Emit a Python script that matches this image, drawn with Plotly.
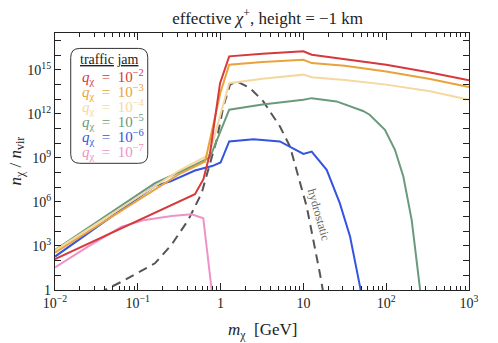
import plotly.graph_objects as go

# ---- data ----
m_red = [0.01, 0.49, 0.62, 0.745, 0.985, 1.27, 3.2, 10, 12.6, 31.6, 100, 339, 1000]
n_red = [1.26e2, 3.4e6, 3.6e7, 2.1e9, 1.26e14, 8.5e15, 1.26e16, 1.86e16, 1.1e16, 5.6e15, 2.3e15, 6.8e14, 2.0e14]

m_orange = [0.01, 0.1, 0.316, 0.65, 0.79, 1.0, 1.27, 3.2, 10, 12.6, 31.6, 100, 339, 1000]
n_orange = [3.5e2, 1.26e6, 7.9e7, 5.8e8, 8.0e10, 3.2e13, 2.3e15, 3.5e15, 5.0e15, 2.95e15, 1.95e15, 7.9e14, 2.4e14, 6.9e13]

m_yellow = [0.01, 0.1, 0.316, 0.73, 1.27, 3.2, 10, 12.6, 31.6, 100, 339, 1000]
n_yellow = [5.0e2, 2.0e6, 1.4e8, 1.66e9, 1.26e14, 2.5e14, 4.8e14, 3.2e14, 2.1e14, 1.0e14, 3.5e13, 9.3e12]

m_green = [0.01, 0.04, 0.161, 0.49, 0.745, 1.27, 3.2, 10, 12.6, 25.1, 39.8, 52.5, 63.1, 96.6, 127.6, 161, 203, 256, 270]
n_green = [5.4e2, 1.0e5, 1.9e7, 3.4e8, 1.1e9, 1.95e12, 4.5e12, 9.3e12, 1.2e13, 7.2e12, 2.8e12, 1.6e12, 8.9e11, 8.3e10, 3.6e9, 5.4e7, 6.0e4, 1.0, 0.1]

m_blue = [0.01, 0.04, 0.161, 0.245, 0.49, 0.79, 1.0, 1.27, 2.5, 5.2, 7.55, 10, 12.6, 19.1, 27.5, 36.6, 48.3, 51]
n_blue = [1.9e2, 5.0e4, 1.26e7, 2.45e7, 1.4e8, 2.8e8, 4.9e8, 1.35e10, 1.9e10, 1.35e10, 4.7e9, 1.9e9, 2.75e9, 1.55e8, 8.3e5, 4.4e3, 1.7, 0.3]

m_pink = [0.01, 0.025, 0.0638, 0.122, 0.257, 0.448, 0.618, 0.782, 0.8]
n_pink = [35, 9.1e2, 2.1e4, 6.0e4, 1.12e5, 1.45e5, 7.8e4, 1.0, 0.3]

m_hydro = [0.035, 0.04, 0.0638, 0.161, 0.257, 0.407, 0.59, 0.898, 1.08, 1.3, 1.56, 2.26, 3.28, 5.21, 6.89, 10.96, 15.8, 17.3, 17.8]
n_hydro = [0.5, 1.0, 3.7, 66, 1.26e3, 6.0e4, 4.0e6, 1.74e10, 3.2e12, 1.0e14, 1.66e14, 5.9e13, 7.2e12, 1.4e11, 6.0e9, 4.9e5, 1.4e1, 1.0, 0.3]

series = [
    (m_red, n_red, "#d6393b", "10<sup>−2</sup>"),
    (m_orange, n_orange, "#e8a33c", "10<sup>−3</sup>"),
    (m_yellow, n_yellow, "#f5d8a0", "10<sup>−4</sup>"),
    (m_green, n_green, "#6b9a7b", "10<sup>−5</sup>"),
    (m_blue, n_blue, "#3453e0", "10<sup>−6</sup>"),
    (m_pink, n_pink, "#ee92c8", "10<sup>−7</sup>"),
]

x_major = [0.01, 0.1, 1, 10, 100, 1000]
x_major_text = ["10<sup>−2</sup>", "10<sup>−1</sup>", "1", "10", "10<sup>2</sup>", "10<sup>3</sup>"]
y_ticks = [10.0 ** k for k in range(0, 18)]
y_text = {0: "1", 3: "10<sup>3</sup>", 6: "10<sup>6</sup>", 9: "10<sup>9</sup>", 12: "10<sup>12</sup>", 15: "10<sup>15</sup>"}
y_ticktext = [y_text.get(k, "") for k in range(0, 18)]

FONT = "Liberation Serif"

fig = go.Figure()
fig.add_trace(go.Scatter(x=m_hydro, y=n_hydro, mode="lines",
                         line=dict(color="#555555", width=2, dash="9px,6px"),
                         showlegend=False, hoverinfo="skip"))
for mx, ny, col, lab in reversed(series):
    fig.add_trace(go.Scatter(x=mx, y=ny, mode="lines", line=dict(color=col, width=2),
                             showlegend=False, name=lab))

x_minor = []
for d in [0.01, 0.1, 1, 10, 100]:
    for k in range(2, 10):
        x_minor.append(d * k)

fig.update_xaxes(type="log", range=[-2, 3], showline=True, linecolor="#222", linewidth=1.2,
                 mirror="ticks", ticks="inside", ticklen=7, tickcolor="#222", tickwidth=1,
                 tickvals=x_major, ticktext=x_major_text, showgrid=False, zeroline=False,
                 automargin=False,
                 tickfont=dict(family=FONT, size=14, color="#222"),
                 minor=dict(tickvals=x_minor, ticks="inside", ticklen=4, tickcolor="#222", showgrid=False))
fig.update_yaxes(type="log", range=[0, 17.52], showline=True, linecolor="#222", linewidth=1.2,
                 mirror="ticks", ticks="inside", ticklen=6, tickcolor="#222", tickwidth=1,
                 tickvals=y_ticks, ticktext=y_ticktext, showgrid=False, zeroline=False,
                 automargin=False,
                 tickfont=dict(family=FONT, size=14, color="#222"))

# legend box (rounded)
x0, x1, y0, y1 = 0.038, 0.224, 0.493, 0.940
rx, ry = 0.022, 0.035
path = (f"M {x0+rx},{y1} L {x1-rx},{y1} Q {x1},{y1} {x1},{y1-ry} L {x1},{y0+ry} "
        f"Q {x1},{y0} {x1-rx},{y0} L {x0+rx},{y0} Q {x0},{y0} {x0},{y0+ry} "
        f"L {x0},{y1-ry} Q {x0},{y1} {x0+rx},{y1} Z")
fig.add_shape(type="path", path=path, xref="paper", yref="paper",
              line=dict(color="#333", width=1), fillcolor="rgba(255,255,255,0.9)")

annots = [dict(text="<u>traffic</u> <u>jam</u>", x=0.131, y=0.897, xref="paper", yref="paper",
               xanchor="center", yanchor="middle", showarrow=False,
               font=dict(family=FONT, size=14, color="#222"))]
row_y = [0.830, 0.772, 0.713, 0.655, 0.597, 0.536]
for (mx, ny, col, lab), yy in zip(series, row_y):
    annots.append(dict(text=f"<i>q</i><sub>χ</sub>  =  {lab}", x=0.060, y=yy, xref="paper", yref="paper",
                       xanchor="left", yanchor="middle", showarrow=False,
                       font=dict(family=FONT, size=15, color=col)))
annots.append(dict(text="hydrostatic", x=1.188, y=5.12, xref="x", yref="y", showarrow=False,
                   textangle=74, font=dict(family=FONT, size=12, color="#666")))
annots.append(dict(text="<i>m</i><sub>χ</sub>  [GeV]", x=0.5, y=-0.158, xref="paper", yref="paper",
                   xanchor="center", yanchor="middle", showarrow=False,
                   font=dict(family=FONT, size=17, color="#222")))
annots.append(dict(text="<i>n</i><sub>χ</sub> / <i>n</i><sub>vir</sub>", x=-0.094, y=0.5, xref="paper", yref="paper",
                   xanchor="center", yanchor="middle", showarrow=False, textangle=-90,
                   font=dict(family=FONT, size=17, color="#222")))
fig.update_layout(annotations=annots)

# the page body adds an 8px offset; size the figure so the plot lands where the reference has it
fig.update_layout(
    width=490, height=335,
    margin=dict(l=47, r=29, t=25, b=53),
    paper_bgcolor="white", plot_bgcolor="white",
    title=dict(text="effective <i>χ</i><sup>+</sup>, height = −1 km", x=0.53, xanchor="center",
               y=0.97, yanchor="middle", font=dict(family=FONT, size=17, color="#222")),
)

fig.write_html("out.html")
